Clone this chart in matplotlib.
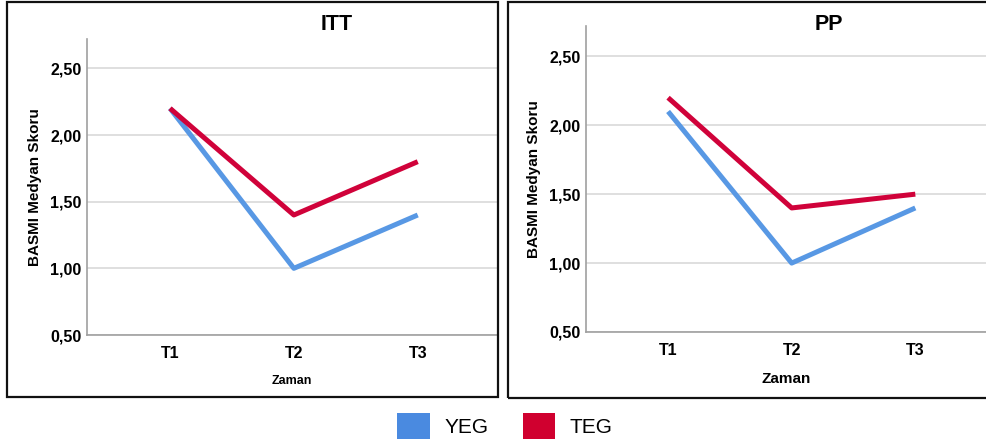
import matplotlib
matplotlib.use('Agg')
import matplotlib.pyplot as plt
from matplotlib.patches import Rectangle, Patch

plt.rcParams['font.family'] = ['Liberation Sans', 'DejaVu Sans']

# data
zaman = ['T1', 'T2', 'T3']
itt_yeg = [2.2, 1.0, 1.4]
itt_teg = [2.2, 1.4, 1.8]
pp_yeg = [2.1, 1.0, 1.4]
pp_teg = [2.2, 1.4, 1.5]
y_ticks = [0.5, 1.0, 1.5, 2.0, 2.5]
y_tick_labels = ['0,50', '1,00', '1,50', '2,00', '2,50']

blue = '#5898E4'
red = '#D0023A'

W, H = 987, 448
fig = plt.figure(figsize=(W / 100, H / 100), dpi=100)


def px_axes(x0, x1, ytop, ybot):
    return fig.add_axes([x0 / W, (H - ybot) / H, (x1 - x0) / W, (ybot - ytop) / H])


def panel(ax, yeg, teg, title, title_x, xlim, xlabel_size):
    x = [1, 2, 3]
    ax.plot(x, yeg, color=blue, lw=3.6, solid_capstyle='butt', clip_on=False)
    ax.plot(x, teg, color=red, lw=3.6, solid_capstyle='butt', clip_on=False)
    ax.set_xlim(*xlim)
    ax.set_ylim(0.5, 2.72)
    ax.set_yticks(y_ticks)
    ax.set_yticklabels(y_tick_labels, fontweight='bold', fontsize=11.5)
    ax.set_xticks(x)
    ax.set_xticklabels(zaman, fontweight='bold', fontsize=11.5)
    ax.tick_params(length=0, pad=4)
    ax.tick_params(axis='x', pad=8)
    ax.yaxis.grid(True, color='#D9D9D9', lw=1.2)
    ax.set_axisbelow(True)
    for s in ['top', 'right']:
        ax.spines[s].set_visible(False)
    for s in ['left', 'bottom']:
        ax.spines[s].set_color('#A0A0A0')
        ax.spines[s].set_linewidth(1.2)
    ax.set_ylabel('BASMI Medyan Skoru', fontweight='bold', fontsize=11, labelpad=6)
    ax.set_xlabel('Zaman', fontweight='bold', fontsize=xlabel_size, labelpad=10)
    fig.text(title_x / W, (H - 25) / H, title, fontweight='bold', fontsize=15.5,
             ha='center', va='center')


ax1 = px_axes(87, 497, 39, 335)
panel(ax1, itt_yeg, itt_teg, 'ITT', 337, (0.33, 3.64), 9)
ax2 = px_axes(586, 987, 26, 332)
panel(ax2, pp_yeg, pp_teg, 'PP', 829, (0.336, 3.58), 11)

# panel frames
fig.patches.append(Rectangle((7 / W, (H - 397) / H), 491 / W, 395 / H,
                             transform=fig.transFigure, fill=False,
                             edgecolor='#111111', lw=1.6))
fig.patches.append(Rectangle((508 / W, (H - 398) / H), 500 / W, 396 / H,
                             transform=fig.transFigure, fill=False,
                             edgecolor='#111111', lw=1.6))

handles = [Patch(facecolor='#4A8AE0', edgecolor='none', label='YEG'),
           Patch(facecolor='#D0002F', edgecolor='none', label='TEG')]
fig.legend(handles=handles, loc='center', bbox_to_anchor=(505 / W, (H - 426) / H),
           ncol=2, frameon=False, fontsize=15, handlelength=1.55, handleheight=1.55,
           handletextpad=0.7, columnspacing=1.65, borderaxespad=0)

fig.savefig('out.png', dpi=100)
